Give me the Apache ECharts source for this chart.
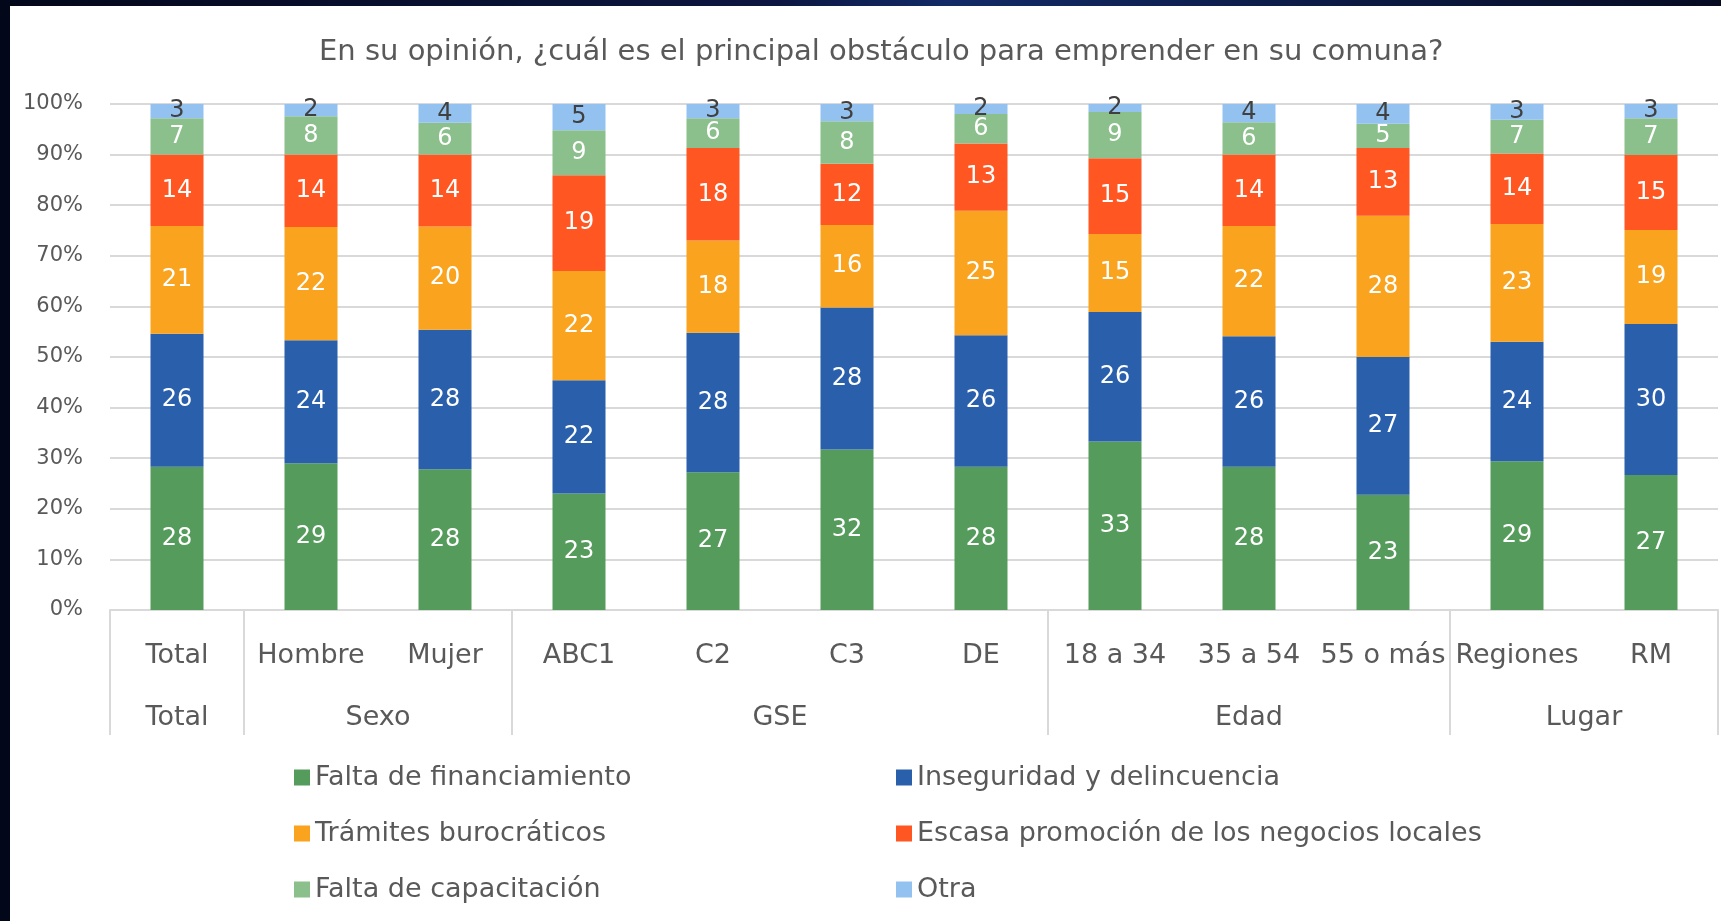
<!DOCTYPE html>
<html>
<head>
<meta charset="utf-8">
<script src="https://cdn.jsdelivr.net/npm/echarts@6/dist/echarts.min.js"></script>
<style>
  html, body {
    margin: 0;
    padding: 0;
    width: 1721px;
    height: 921px;
    overflow: hidden;
    background: linear-gradient(90deg, #03071a 0%, #0c1640 45%, #122a66 55%, #060b22 100%);
  }
  #chart {
    position: absolute;
    left: 10px;
    top: 6px;
    width: 1711px;
    height: 915px;
    background: #fff;
  }
</style>
</head>
<body>
<div id="chart"></div>
<script>
// categorias del eje X
const categories = ['Total', 'Hombre', 'Mujer', 'ABC1', 'C2', 'C3', 'DE', '18 a 34', '35 a 54', '55 o más', 'Regiones', 'RM']
// grupos (segundo nivel) y cuantas categorias abarca cada uno
const groupNames = ['Total', 'Sexo', 'GSE', 'Edad', 'Lugar']
const groupSizes = [1, 2, 4, 3, 2]

const seriesNames = [
  'Falta de financiamiento',
  'Inseguridad y delincuencia',
  'Trámites burocráticos',
  'Escasa promoción de los negocios locales',
  'Falta de capacitación',
  'Otra'
]

// porcentajes
const financiamiento = [28.3, 29.0, 27.8, 23.0, 27.2, 31.7, 28.3, 33.3, 28.3, 22.8, 29.4, 26.7]
const inseguridad = [26.3, 24.3, 27.6, 22.4, 27.6, 28.1, 26.0, 25.6, 25.8, 27.2, 23.6, 29.8]
const tramites = [21.3, 22.4, 20.4, 21.6, 18.2, 16.3, 24.6, 15.4, 21.8, 27.9, 23.3, 18.6]
const promocion = [14.1, 14.3, 14.2, 18.9, 18.3, 12.1, 13.3, 15.0, 14.1, 13.4, 13.9, 14.8]
const capacitacion = [7.2, 7.6, 6.3, 8.9, 5.9, 8.4, 5.8, 9.1, 6.4, 4.8, 6.7, 7.3]
const otra = [2.8, 2.4, 3.7, 5.2, 2.8, 3.4, 2.0, 1.6, 3.6, 3.9, 3.1, 2.8]

const yTicks = [0, 10, 20, 30, 40, 50, 60, 70, 80, 90, 100]

const seriesData = [financiamiento, inseguridad, tramites, promocion, capacitacion, otra]
const colors = ['#559b5c', '#2a5fab', '#f9a31f', '#ff5622', '#8bbf8b', '#93c2f0']
const labelColors = ['#fff', '#fff', '#fff', '#fff', '#fff', '#404040']

// eje de grupos: medio paso por categoria, asi los nombres quedan centrados en su grupo
const groupSlots = new Array(categories.length * 2 + 1).fill('')
const groupEdges = [0]
let pos = 0
groupSizes.forEach((n, i) => {
  groupSlots[pos * 2 + n] = groupNames[i]
  pos += n
  groupEdges.push(pos * 2)
})

const textColor = '#595959'
const lineColor = '#d9d9d9'
const font = 'DejaVu Sans'

const chart = echarts.init(document.getElementById('chart'))

const option = {
  animation: false,
  textStyle: { fontFamily: font },
  title: {
    text: 'En su opinión, ¿cuál es el principal obstáculo para emprender en su comuna?',
    left: 304,
    top: 27,
    textStyle: {
      fontFamily: font,
      fontSize: 29,
      fontWeight: 'normal',
      color: textColor
    }
  },
  grid: {
    left: 100,
    right: 3,
    top: 98,
    bottom: 311
  },
  legend: [
    {
      data: [seriesNames[0], seriesNames[2], seriesNames[4]],
      orient: 'vertical',
      left: 279,
      top: 753,
      icon: 'rect',
      itemWidth: 16,
      itemHeight: 16,
      itemGap: 29,
      textStyle: { fontFamily: font, fontSize: 27, color: textColor, lineHeight: 26 }
    },
    {
      data: [seriesNames[1], seriesNames[3], seriesNames[5]],
      orient: 'vertical',
      left: 881,
      top: 753,
      icon: 'rect',
      itemWidth: 16,
      itemHeight: 16,
      itemGap: 29,
      textStyle: { fontFamily: font, fontSize: 27, color: textColor, lineHeight: 26 }
    }
  ],
  xAxis: [
    {
      type: 'category',
      data: categories,
      axisLine: { lineStyle: { color: lineColor, width: 2 } },
      axisTick: { show: false },
      axisLabel: {
        interval: 0,
        margin: 32,
        fontFamily: font,
        fontSize: 27,
        color: textColor
      }
    },
    {
      type: 'category',
      position: 'bottom',
      data: groupSlots,
      boundaryGap: false,
      axisLine: { show: false },
      axisTick: {
        show: true,
        interval: (i) => groupEdges.includes(i),
        length: 125,
        lineStyle: { color: lineColor, width: 2 }
      },
      axisLabel: {
        interval: 0,
        margin: 94,
        fontFamily: font,
        fontSize: 27,
        color: textColor
      }
    }
  ],
  yAxis: {
    type: 'value',
    min: yTicks[0],
    max: yTicks[yTicks.length - 1],
    interval: 10,
    axisLine: { show: false },
    axisTick: { show: false },
    axisLabel: {
      margin: 27,
      fontFamily: font,
      fontSize: 21,
      color: textColor,
      formatter: '{value}%'
    },
    splitLine: { lineStyle: { color: lineColor, width: 2 } }
  },
  series: seriesData.map((data, i) => ({
    name: seriesNames[i],
    type: 'bar',
    stack: 'total',
    xAxisIndex: 0,
    barWidth: 53,
    data: data,
    itemStyle: { color: colors[i] },
    label: {
      show: true,
      position: 'inside',
      fontFamily: font,
      fontSize: 24,
      color: labelColors[i],
      formatter: (p) => Math.round(p.value)
    }
  }))
}

chart.setOption(option)
</script>
</body>
</html>
